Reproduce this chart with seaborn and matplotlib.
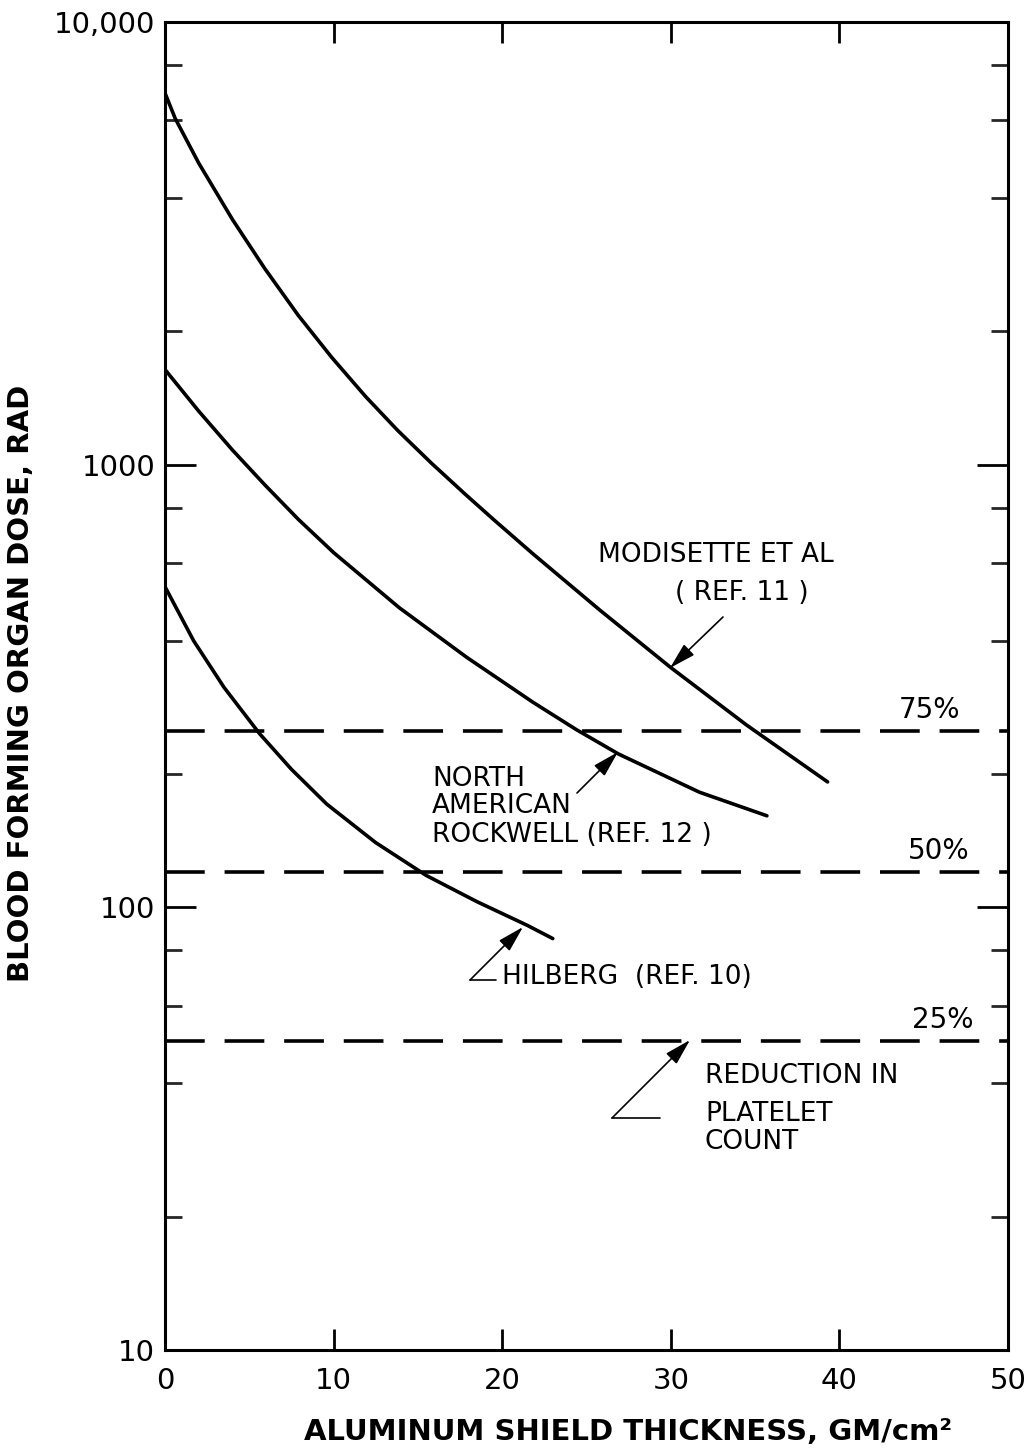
import matplotlib
matplotlib.use("Agg")
import matplotlib.pyplot as plt
from matplotlib.ticker import LogLocator, NullFormatter, FixedLocator
import numpy as np
import pandas as pd
import seaborn as sns

# ---------------- data ----------------
modisette_x = [0, 0.6, 2.0, 4.0, 5.9, 7.9, 9.9, 11.9, 13.8, 15.8, 17.8, 19.5,
               21.8, 25.8, 30.0, 34.5, 39.3]
modisette_y = [6910, 6060, 4800, 3580, 2780, 2175, 1745, 1425, 1195, 1008, 858,
               751, 630, 469, 348, 258, 192]

rockwell_x = [0, 2.0, 4.0, 5.9, 7.9, 10.0, 13.9, 17.9, 21.8, 24.4, 26.9, 31.7, 35.7]
rockwell_y = [1640, 1321, 1079, 902, 753, 633, 475, 367, 291, 252, 222, 182, 161]

hilberg_x = [0, 1.7, 3.5, 5.6, 7.5, 9.6, 12.5, 15.5, 18.5, 21.5, 23.0]
hilberg_y = [530, 400, 314, 247, 205, 171, 140, 118, 103, 91, 85]

threshold_values = [250, 120, 50]
threshold_labels = ["75%", "50%", "25%"]

x_ticks = [0, 10, 20, 30, 40, 50]
x_tick_labels = ["0", "10", "20", "30", "40", "50"]
y_ticks = [10, 100, 1000, 10000]
y_tick_labels = ["10", "100", "1000", "10,000"]

# ---------------- figure ----------------
sns.set_theme(style="white")
plt.rcParams['font.family'] = ['DejaVu Sans']

W, H = 1035, 1448
L, R, T, B = 165, 1008, 22, 1350
fig = plt.figure(figsize=(W / 100, H / 100), dpi=100)
ax = fig.add_axes([L / W, (H - B) / H, (R - L) / W, (B - T) / H])

df = pd.concat([
    pd.DataFrame({"x": modisette_x, "y": modisette_y, "src": "Modisette"}),
    pd.DataFrame({"x": rockwell_x, "y": rockwell_y, "src": "Rockwell"}),
    pd.DataFrame({"x": hilberg_x, "y": hilberg_y, "src": "Hilberg"}),
])
sns.lineplot(data=df, x="x", y="y", units="src", estimator=None, sort=False,
             color="black", linewidth=2.6, ax=ax, legend=False)
for ln in ax.get_lines():
    ln.set_solid_joinstyle("round")

for v in threshold_values:
    ax.axhline(v, color="black", linewidth=2.6, linestyle=(0, (11, 5.5)))

ax.set_yscale("log")
ax.set_xlim(0, 50)
ax.set_ylim(10, 10000)

ax.xaxis.set_major_locator(FixedLocator(x_ticks))
ax.set_xticklabels(x_tick_labels)
ax.yaxis.set_major_locator(FixedLocator(y_ticks))
ax.set_yticklabels(y_tick_labels)
ax.yaxis.set_minor_locator(LogLocator(base=10, subs=[2, 4, 6, 8]))
ax.yaxis.set_minor_formatter(NullFormatter())

for s in ax.spines.values():
    s.set_linewidth(2.2)
    s.set_color("black")

ax.tick_params(axis="x", which="major", direction="in", length=15, width=2.0,
               top=True, bottom=True, labelsize=21, pad=12, colors="black")
ax.tick_params(axis="y", which="major", direction="in", length=22, width=2.0,
               left=True, right=True, labelsize=21, pad=7, colors="black")
ax.tick_params(axis="y", which="minor", direction="in", length=12, width=2.0,
               left=True, right=True)
ax.grid(False)

ax.set_xlabel("ALUMINUM SHIELD THICKNESS, GM/cm²", fontsize=21,
              fontweight="bold", color="black")
ax.set_ylabel("BLOOD FORMING ORGAN DOSE, RAD", fontsize=21,
              fontweight="bold", color="black")
ax.xaxis.set_label_coords((628 - L) / (R - L), (B - 1418) / (B - T))
ax.yaxis.set_label_coords((35 - L) / (R - L), (B - 683) / (B - T))


def pd_(px, py):
    """pixel position in the picture -> data coordinates"""
    x = (px - L) / (R - L) * 50
    y = 10 ** (4 - 3 * (py - T) / (B - T))
    return x, y


def txt(px, py, s, ha="left", size=19):
    x, y = pd_(px, py)
    ax.text(x, y, s, ha=ha, va="center", fontsize=size, color="black")


arrow_kw = dict(arrowstyle="-|>,head_length=0.9,head_width=0.25",
                color="black", lw=1.2, mutation_scale=18, shrinkA=0, shrinkB=0)

# Modisette
txt(598, 555, "MODISETTE ET AL")
txt(742, 593, "( REF. 11 )", ha="center")
ax.annotate("", xy=pd_(670, 668), xytext=pd_(723, 617), arrowprops=arrow_kw)

# North American Rockwell
txt(432, 779, "NORTH")
txt(432, 806, "AMERICAN")
txt(432, 835, "ROCKWELL (REF. 12 )")
ax.annotate("", xy=pd_(618, 752), xytext=pd_(577, 793), arrowprops=arrow_kw)

# Hilberg
txt(502, 977, "HILBERG  (REF. 10)")
ax.annotate("", xy=pd_(523, 927), xytext=pd_(470, 980), arrowprops=arrow_kw)
hx0, hy0 = pd_(470, 980)
hx1, _ = pd_(496, 980)
ax.plot([hx0, hx1], [hy0, hy0], color="black", lw=1.2)

# Platelet
txt(705, 1076, "REDUCTION IN")
txt(705, 1114, "PLATELET")
txt(705, 1142, "COUNT")
ax.annotate("", xy=pd_(690, 1040), xytext=pd_(612, 1118), arrowprops=arrow_kw)
px0, py0 = pd_(612, 1118)
px1, _ = pd_(660, 1118)
ax.plot([px0, px1], [py0, py0], color="black", lw=1.2)

# percentage labels
for lab, v, cx in zip(threshold_labels, threshold_values, [930, 939, 943]):
    x, _ = pd_(cx, 0)
    ax.annotate(lab, xy=(x, v), xytext=(0, 5), textcoords="offset points",
                ha="center", va="bottom", fontsize=20, color="black")

fig.savefig("out.png", dpi=100, facecolor="white")
